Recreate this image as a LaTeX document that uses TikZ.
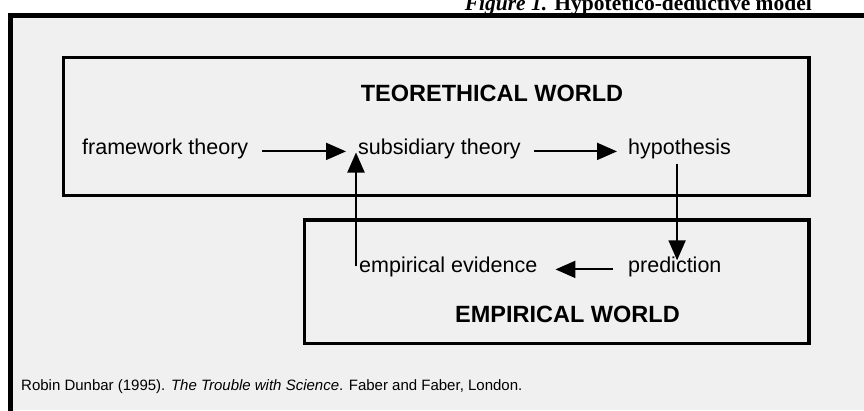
\documentclass[tikz,border=0pt]{standalone}
\usepackage{fontspec}
\setmainfont{Liberation Sans}
\newfontfamily\titlefont{Liberation Serif}
\usetikzlibrary{arrows.meta}
\definecolor{panelgray}{RGB}{240,240,240}
\tikzset{
  flow/.style={inner sep=0pt, font=\fontsize{21.5}{24}\selectfont, text height=0.75em, text depth=0.23em},
  world/.style={inner sep=0pt, font=\fontsize{23.5}{26}\selectfont\bfseries},
  arr/.style={line width=2pt, -{Triangle[length=20pt,width=17pt]}},
  worldbox/.style={line width=3.5pt, draw=black}
}
\begin{document}
\begin{tikzpicture}[x=1pt,y=-1pt]
\useasboundingbox (0,0) rectangle (864,410);
\fill[white] (0,0) rectangle (864,410);
\fill[panelgray] (8,13) rectangle (864,410);
% title (cut off at top)
\node[inner sep=0pt, anchor=base east, font=\titlefont\fontsize{21.5}{24}\selectfont\bfseries] (title) at (812,10) {\textit{Figure 1.} Hypotetico-deductive model};
% outer frame
\draw[line width=5pt, line cap=rect] (10.5,420) -- (10.5,15.5) -- (880,15.5);
% boxes
\draw[worldbox] (63.5,57.5) rectangle (809,195.5);
\draw[worldbox] (304.5,220) rectangle (809,343.5);
% headings
\node[world, anchor=base] (tw) at (492,101) {TEORETHICAL WORLD};
\node[world, anchor=base] (ew) at (567.5,322) {EMPIRICAL WORLD};
% flow texts
\node[flow, anchor=base west] (fw) at (82,154) {framework theory};
\node[flow, anchor=base west] (sub) at (358,154) {subsidiary theory};
\node[flow, anchor=base west] (hyp) at (628,154) {hypothesis};
\node[flow, anchor=base west] (emp) at (359,272) {empirical evidence};
\node[flow, anchor=base west] (pred) at (628,272) {prediction};
% connectors
\draw[arr, shorten <=14pt, shorten >=12pt] (fw.east) -- (sub.west);
\draw[arr, shorten <=13pt, shorten >=11pt] (sub.east) -- (hyp.west);
\draw[arr, shorten <=7pt, shorten >=4pt] ([xshift=-2.5pt]hyp.south) -- ([xshift=-2.5pt]hyp.south |- pred.north);
\draw[arr, shorten <=15pt, shorten >=18pt] (pred.west) -- (emp.east);
\draw[arr, shorten <=-2pt, shorten >=-4pt] ([xshift=-3pt]emp.north west) -- ([xshift=-3pt]emp.north west |- sub.south);
% citation
\node[inner sep=0pt, anchor=base west, font=\fontsize{15}{18}\selectfont] (cite) at (21,390) {Robin Dunbar (1995). \textit{The Trouble with Science}. Faber and Faber, London.};
\end{tikzpicture}
\end{document}
